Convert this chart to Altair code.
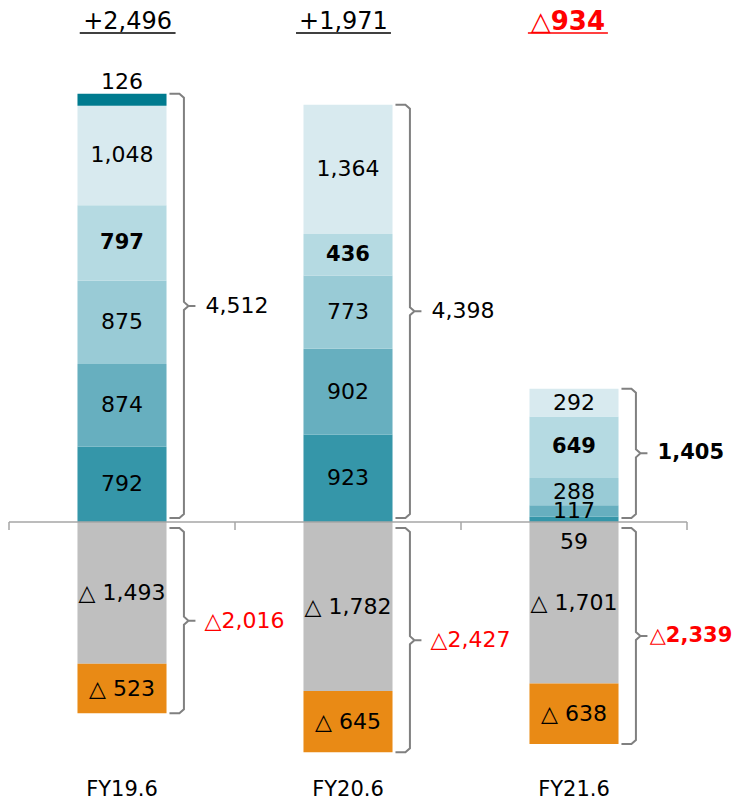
import altair as alt
import pandas as pd

categories = ["FY19.6", "FY20.6", "FY21.6"]
seg_names = ["s1", "s2", "s3", "s4", "s5", "s6"]
s1 = [792, 923, 59]
s2 = [874, 902, 117]
s3 = [875, 773, 288]
s4 = [797, 436, 649]
s5 = [1048, 1364, 292]
s6 = [126, 0, 0]
neg_gray = [1493, 1782, 1701]
neg_orange = [523, 645, 638]
net_labels = ["+2,496", "+1,971", "△934"]
pos_total_labels = ["4,512", "4,398", "1,405"]
neg_total_labels = ["△2,016", "△2,427", "△2,339"]

seg_colors = ["#3596a9", "#67afbf", "#99cbd6", "#b5dae2", "#d8eaef", "#007b8f"]
gray = "#bfbfbf"
orange = "#e98a15"
red = "#ff0000"
brace_col = "#808080"

K = 0.0949  # px per value unit
def px(p):
    return p / K

W, H = 732, 792
ZERO_PX = 514
YMAX = ZERO_PX / K
YMIN = -(H - ZERO_PX) / K
XD0 = -114 / 226
XD1 = (W - 114) / 226
HALF = 0.197

def fmt(v):
    return f"{v:,}"

pos_series = [s1, s2, s3, s4, s5, s6]
rects, labels = [], []
for i, cat in enumerate(categories):
    base = 0
    for j, ser in enumerate(pos_series):
        v = ser[i]
        if v == 0:
            continue
        rects.append(dict(x=i - HALF, x2=i + HALF, y=base, y2=base + v, c=seg_names[j]))
        mid = base + v / 2
        if j == 5:
            ly = base + v + px(12)
        elif v < 100:
            ly = -px(20)
        else:
            ly = mid
        labels.append(dict(x=i, y=ly, t=fmt(v), bold=(j == 3), col="black"))
        base += v
    nb = 0
    for nm, ser in (("g", neg_gray), ("o", neg_orange)):
        v = ser[i]
        rects.append(dict(x=i - HALF, x2=i + HALF, y=nb, y2=nb - v, c=nm))
        labels.append(dict(x=i, y=nb - v / 2, t="△ " + fmt(v), bold=False, col="black"))
        nb -= v

rect_df = pd.DataFrame(rects)
lab_df = pd.DataFrame(labels)

dom = seg_names + ["g", "o"]
rng = seg_colors + [gray, orange]

xs = alt.Scale(domain=[XD0, XD1], nice=False, zero=False)
ys = alt.Scale(domain=[YMIN, YMAX], nice=False, zero=False)
X = lambda f: alt.X(f, type="quantitative", scale=xs, axis=None)
Y = lambda f: alt.Y(f, type="quantitative", scale=ys, axis=None)

bars = alt.Chart(rect_df).mark_rect().encode(
    x=X("x"), x2="x2", y=Y("y"), y2="y2",
    color=alt.Color("c:N", scale=alt.Scale(domain=dom, range=rng), legend=None),
)

FONT = "DejaVu Sans"
seg_text_n = alt.Chart(lab_df[~lab_df.bold]).mark_text(font=FONT, fontSize=22, color="black").encode(
    x=X("x"), y=Y("y"), text="t:N")
seg_text_b = alt.Chart(lab_df[lab_df.bold]).mark_text(font=FONT, fontSize=21, fontWeight="bold", color="black").encode(
    x=X("x"), y=Y("y"), text="t:N")

# axis line and ticks
axis_df = pd.DataFrame([dict(x=-0.5, x2=2.5, y=0)])
axis_line = alt.Chart(axis_df).mark_rule(color="#a6a6a6", strokeWidth=1.5).encode(
    x=X("x"), x2="x2", y=Y("y"))
tick_df = pd.DataFrame([dict(x=t, y=0, y2=-px(8)) for t in [-0.5, 0.5, 1.5, 2.5]])
ticks = alt.Chart(tick_df).mark_rule(color="#a6a6a6", strokeWidth=1.5).encode(
    x=X("x"), y=Y("y"), y2="y2")

# braces
HE, V, NUB = 0.21, 0.274, 0.325
br = []
for i in range(3):
    ptot = sum(s[i] for s in pos_series)
    ntot = neg_gray[i] + neg_orange[i]
    for b, (top, bot) in enumerate([(ptot, px(4)), (-px(6), -ntot)]):
        mid = (top + bot) / 2
        pts = [(HE, top), (V - 0.02, top), (V, top - px(4)), (V, mid + px(4)),
               (V + 0.02, mid), (NUB, mid), (V + 0.02, mid), (V, mid - px(4)),
               (V, bot + px(4)), (V - 0.02, bot), (HE, bot)]
        for k, (dx, yy) in enumerate(pts):
            br.append(dict(id=f"{i}-{b}", o=k, x=i + dx, y=yy))
br_df = pd.DataFrame(br)
braces = alt.Chart(br_df).mark_line(color=brace_col, strokeWidth=2, interpolate="linear").encode(
    x=X("x"), y=Y("y"), detail="id:N", order="o:Q")

# bracket totals
tot = []
for i in range(3):
    ptot = sum(s[i] for s in pos_series)
    ntot = neg_gray[i] + neg_orange[i]
    tot.append(dict(x=i + 0.37, y=(ptot + px(4)) / 2, t=pos_total_labels[i], col="black", bold=(i == 2)))
    tot.append(dict(x=i + (0.335 if i == 2 else 0.365), y=(-px(6) - ntot) / 2, t=neg_total_labels[i], col=red, bold=(i == 2)))
tot_df = pd.DataFrame(tot)
tot_n = alt.Chart(tot_df[~tot_df.bold]).mark_text(font=FONT, fontSize=22, align="left").encode(
    x=X("x"), y=Y("y"), text="t:N", color=alt.Color("col:N", scale=None))
tot_b = alt.Chart(tot_df[tot_df.bold]).mark_text(font=FONT, fontSize=21, fontWeight="bold", align="left").encode(
    x=X("x"), y=Y("y"), text="t:N", color=alt.Color("col:N", scale=None))

# net labels at top with underline
net_shift = [0.025, -0.02, -0.027]
net_half = [0.212, 0.21, 0.177]
net = []
for i in range(3):
    ptot = sum(s[i] for s in pos_series)
    ntot = neg_gray[i] + neg_orange[i]
    neg = ptot - ntot < 0
    cx = i + net_shift[i]
    net.append(dict(x=cx, y=(ZERO_PX - 14) / K, t=net_labels[i],
                    col=red if neg else "black", bold=neg,
                    ux=cx - net_half[i], ux2=cx + net_half[i],
                    uy=(ZERO_PX - 25) / K))
net_df = pd.DataFrame(net)
net_n = alt.Chart(net_df[~net_df.bold]).mark_text(font=FONT, fontSize=24).encode(
    x=X("x"), y=Y("y"), text="t:N", color=alt.Color("col:N", scale=None))
net_b = alt.Chart(net_df[net_df.bold]).mark_text(font=FONT, fontSize=26, fontWeight="bold").encode(
    x=X("x"), y=Y("y"), text="t:N", color=alt.Color("col:N", scale=None))
underline = alt.Chart(net_df).mark_rule(strokeWidth=1.5).encode(
    x=X("ux"), x2="ux2", y=Y("uy"), color=alt.Color("col:N", scale=None))

# category labels
cat_df = pd.DataFrame(dict(x=list(range(3)), y=[-(790 - 8 - ZERO_PX) / K] * 3, t=categories))
cat_text = alt.Chart(cat_df).mark_text(font=FONT, fontSize=21, color="black").encode(
    x=X("x"), y=Y("y"), text="t:N")

chart = alt.layer(
    bars, axis_line, ticks, braces, seg_text_n, seg_text_b, tot_n, tot_b,
    net_n, net_b, underline, cat_text
).properties(
    width=W, height=H, padding=0, autosize=alt.AutoSizeParams(type="none")
).configure_view(stroke=None)

chart.save("out.html", embed_options={"renderer": "svg", "actions": False})
